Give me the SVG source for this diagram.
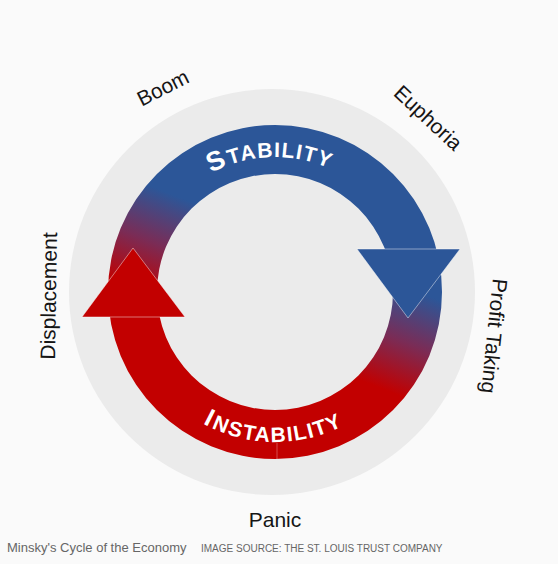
<svg xmlns="http://www.w3.org/2000/svg" width="558" height="564" viewBox="0 0 558 564">
  <defs>
    <linearGradient id="ringGrad" gradientUnits="userSpaceOnUse" x1="292" y1="242" x2="254" y2="338">
      <stop offset="0" stop-color="#2c5698"/>
      <stop offset="0.5" stop-color="#7a2c56"/>
      <stop offset="1" stop-color="#c20000"/>
    </linearGradient>
    <path id="stabArc" d="M 140,292 A 135 135 0 0 1 410,292"/>
    <path id="instabArc" d="M 125,292 A 150 150 0 0 0 425,292"/>
  </defs>
  <style>
    .label { font-family: "Liberation Sans", Arial, sans-serif; font-size: 21px; fill: #151515; }
    .ringtext { font-family: "Liberation Sans", Arial, sans-serif; font-weight: bold; fill: #ffffff; }
    .head { stroke: #ffffff; stroke-opacity: 0.45; stroke-width: 1; }
    .caption { font-family: "Liberation Sans", Arial, sans-serif; fill: #666666; }
  </style>
  <rect width="558" height="564" fill="#fafafa"/>
  <circle cx="272" cy="292" r="203" fill="#ebebeb"/>

  <g id="ring">
    <path d="M 108,292 A 167 167 0 1 0 442,292 A 167 167 0 1 0 108,292 Z M 157,292 A 118 118 0 1 1 393,292 A 118 118 0 1 1 157,292 Z" fill="url(#ringGrad)" fill-rule="evenodd"/>
    <line x1="277" y1="443" x2="277" y2="459" stroke="#ffffff" stroke-opacity="0.3" stroke-width="1"/>
  </g>

  <g id="stability-arrow">
    <polygon class="head" points="357,249 460,249 408,318" fill="#2c5698"/>
    <text class="ringtext" font-size="21" letter-spacing="1.2"><textPath href="#stabArc" startOffset="48.8%" text-anchor="middle"><tspan font-size="27">S</tspan><tspan dx="1">TABILITY</tspan></textPath></text>
  </g>

  <g id="instability-arrow">
    <polygon class="head" points="133,248 185,317 82,317" fill="#c20000"/>
    <text class="ringtext" font-size="21" letter-spacing="1.5"><textPath href="#instabArc" startOffset="49.6%" text-anchor="middle"><tspan font-size="25">I</tspan><tspan dx="1">NSTABILITY</tspan></textPath></text>
  </g>

  <g id="boom"><text class="label" text-anchor="middle" transform="translate(163,88) rotate(-27)" y="7">Boom</text></g>
  <g id="euphoria"><text class="label" text-anchor="middle" transform="translate(428,118) rotate(43)" y="7">Euphoria</text></g>
  <g id="profit-taking"><text class="label" text-anchor="middle" transform="translate(494,336) rotate(96)" y="7">Profit Taking</text></g>
  <g id="panic"><text class="label" text-anchor="middle" x="275" y="527">Panic</text></g>
  <g id="displacement"><text class="label" font-size="23" text-anchor="middle" transform="translate(48,296) rotate(-89)" y="8">Displacement</text></g>

  <g id="caption">
    <text class="caption" x="7" y="552" font-size="13">Minsky's Cycle of the Economy</text>
    <text class="caption" x="201" y="552" font-size="10">IMAGE SOURCE: THE ST. LOUIS TRUST COMPANY</text>
  </g>
</svg>
